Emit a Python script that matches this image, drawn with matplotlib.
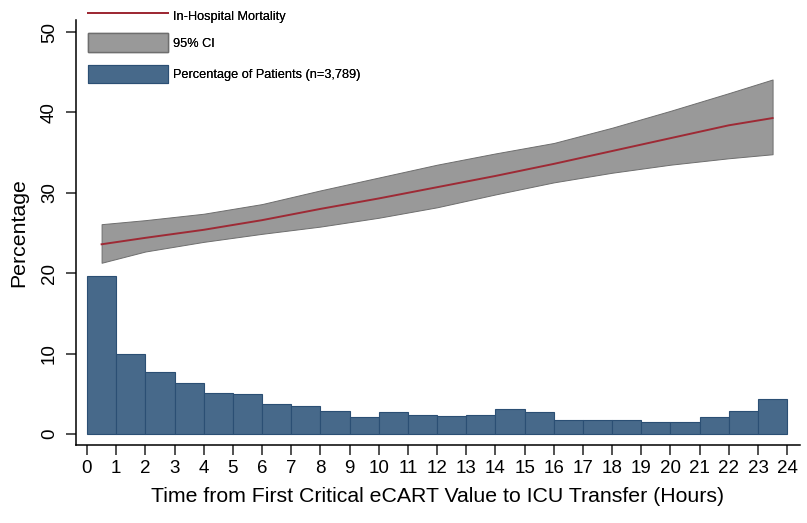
import matplotlib
matplotlib.use("Agg")
import matplotlib.pyplot as plt
from matplotlib.patches import Patch
from matplotlib.lines import Line2D

plt.rcParams['font.family'] = ['Liberation Sans', 'DejaVu Sans']

# Histogram: percentage of patients per hour bin (0-1, 1-2, ..., 23-24)
bin_left = list(range(24))
pct_patients = [19.6, 10.0, 7.7, 6.4, 5.1, 5.0, 3.7, 3.5, 2.9, 2.1, 2.7, 2.4,
                2.2, 2.3, 3.1, 2.7, 1.7, 1.8, 1.8, 1.5, 1.5, 2.1, 2.8, 4.4]

# Mortality curve and 95% CI
hours = [0.5, 2, 4, 6, 8, 10, 12, 14, 16, 18, 20, 22, 23.5]
mortality = [23.6, 24.4, 25.4, 26.6, 28.0, 29.3, 30.7, 32.1, 33.6, 35.2, 36.8, 38.4, 39.3]
ci_upper = [26.1, 26.6, 27.4, 28.6, 30.3, 31.9, 33.5, 34.9, 36.2, 38.1, 40.2, 42.4, 44.1]
ci_lower = [21.3, 22.7, 23.9, 24.9, 25.8, 26.9, 28.2, 29.8, 31.3, 32.5, 33.5, 34.3, 34.8]

xticks = list(range(25))
yticks = [0, 10, 20, 30, 40, 50]

bar_color = '#47698a'
bar_edge = '#2b4f74'
ci_color = '#999999'
ci_edge = '#6e6e6e'
line_color = '#9e2a35'

W, H = 807, 523
fig = plt.figure(figsize=(W / 100, H / 100), dpi=100)
ax = fig.add_axes([76/W, (H-445)/H, (800-76)/W, (445-20)/H])

ax.bar(bin_left, pct_patients, width=1.0, align='edge', color=bar_color,
       edgecolor=bar_edge, linewidth=0.8, zorder=2)
ax.fill_between(hours, ci_lower, ci_upper, color=ci_color, edgecolor=ci_edge,
                linewidth=0.7, zorder=3)
ax.plot(hours, mortality, color=line_color, linewidth=1.4, zorder=4)

ax.set_xlim(-0.377, 24.44)
ax.set_ylim(-1.37, 51.5)
ax.set_xticks(xticks)
ax.set_yticks(yticks)
ax.tick_params(axis='both', direction='out', length=7, width=1.1, labelsize=13.5, color='#222222')
ax.tick_params(axis='x', pad=4)
ax.tick_params(axis='y', pad=6)
for lbl in ax.get_yticklabels():
    lbl.set_rotation(90)
    lbl.set_va('center')
ax.spines['top'].set_visible(False)
ax.spines['right'].set_visible(False)
ax.spines['left'].set_linewidth(1.1)
ax.spines['bottom'].set_linewidth(1.1)
ax.set_xlabel('Time from First Critical eCART Value to ICU Transfer (Hours)', fontsize=15.3, labelpad=7)
ax.set_ylabel('Percentage', fontsize=15.3, labelpad=9)

handles = [
    Line2D([0], [0], color=line_color, linewidth=1.4),
    Patch(facecolor=ci_color, edgecolor=ci_edge, linewidth=1.0),
    Patch(facecolor=bar_color, edgecolor=bar_edge, linewidth=0.8),
]
labels = ['In-Hospital Mortality', '95% CI', 'Percentage of Patients (n=3,789)']
row_y = [15.5, 42.5, 74]  # pixel rows of the legend entries from the top
for h, l, yp in zip(handles, labels, row_y):
    lg = fig.legend([h], [l], loc='center left', bbox_to_anchor=(88 / W, 1 - yp / H),
                    bbox_transform=fig.transFigure, frameon=False, fontsize=9.2,
                    handlelength=6.26, handleheight=1.89, handletextpad=0.4,
                    borderaxespad=0, borderpad=0)
    fig.add_artist(lg)

fig.savefig('out.png', dpi=100)
